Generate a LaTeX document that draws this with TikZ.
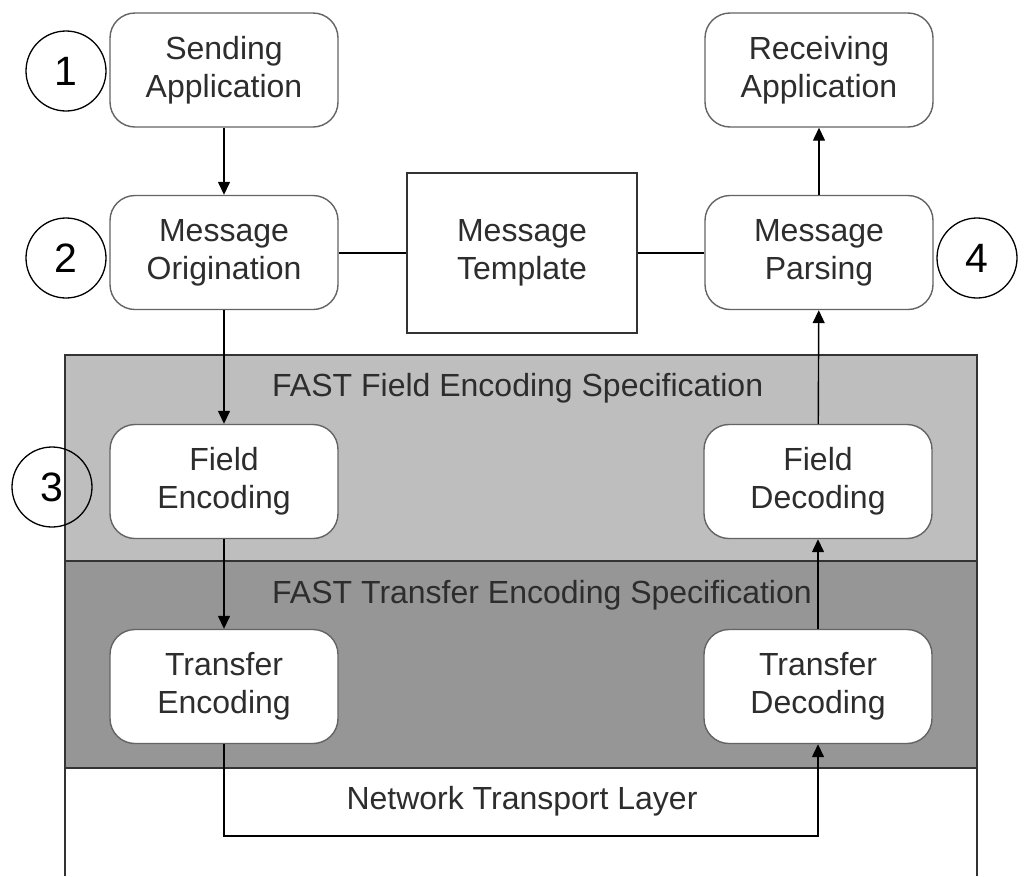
\documentclass[tikz,border=0pt]{standalone}
\usepackage{fontspec}
\setmainfont{Liberation Sans}
\usetikzlibrary{arrows.meta}
\definecolor{bandlight}{RGB}{190,190,190}
\definecolor{banddark}{RGB}{150,150,150}
\definecolor{boxline}{RGB}{100,100,100}
\definecolor{txt}{RGB}{45,45,45}
\tikzset{
  stage/.style={draw=boxline, line width=1.4pt, fill=white, rounded corners=25pt,
    minimum width=228pt, minimum height=114pt, align=center, text=txt,
    font=\fontsize{32}{38}\selectfont, inner sep=0pt},
  tmplbox/.style={draw=black!80, line width=1.4pt, fill=white,
    minimum width=230pt, minimum height=160pt, align=center, text=txt,
    font=\fontsize{32}{38}\selectfont, inner sep=0pt},
  stepnum/.style={draw=black, line width=1.3pt, circle, minimum size=80pt, inner sep=0pt,
    font=\fontsize{41}{41}\selectfont},
  layertext/.style={text=txt, font=\fontsize{32}{38}\selectfont, inner sep=0pt},
  flow/.style={draw=black, line width=1.4pt, -{Triangle[length=13pt,width=12pt]}},
  link/.style={draw=black, line width=1.4pt}
}
\begin{document}
\begin{tikzpicture}[x=1pt,y=-1pt]
\useasboundingbox (0,0) rectangle (1024,876);
% protocol layers
\fill[bandlight] (65,355) rectangle (977,561);
\fill[banddark] (65,561) rectangle (977,768);
\draw[black!80, line width=1.3pt] (65,876) -- (65,355) -- (977,355) -- (977,876);
\draw[black!80, line width=1.3pt] (65,561) -- (977,561);
\draw[black!80, line width=1.3pt] (65,768) -- (977,768);
\node[layertext, anchor=west] (fieldspec) at (272,388) {FAST Field Encoding Specification};
\node[layertext, anchor=west] (transspec) at (272,595) {FAST Transfer Encoding Specification};
\node[layertext] (nettext) at (522,801) {Network Transport Layer};
% stages
\node[stage] (send) at (224,70) {Sending\\Application};
\node[stage] (orig) at (224,252.5) {Message\\Origination};
\node[tmplbox] (tmpl) at (522,253) {Message\\Template};
\node[stage] (recv) at (819,70) {Receiving\\Application};
\node[stage] (pars) at (819,252.5) {Message\\Parsing};
\node[stage] (fenc) at (224,481.5) {Field\\Encoding};
\node[stage] (fdec) at (818,481.5) {Field\\Decoding};
\node[stage] (tenc) at (224,686.5) {Transfer\\Encoding};
\node[stage] (tdec) at (818,686.5) {Transfer\\Decoding};
% numbered markers
\node[stepnum] (n1) at (66,71) {1};
\node[stepnum] (n2) at (66,258) {2};
\node[stepnum] (n3) at (52,487) {3};
\node[stepnum] (n4) at (977,258) {4};
% connectors
\coordinate (netl) at (224,836);
\coordinate (netr) at (818,836);
\draw[flow] (send) -- (orig);
\draw[flow] (orig) -- (fenc);
\draw[flow] (fenc) -- (tenc);
\draw[flow] (tenc.south) -- (netl) -- (netr) -- (tdec.south);
\draw[flow] (tdec) -- (fdec);
\draw[flow] (fdec) -- (pars);
\draw[flow] (pars) -- (recv);
\draw[link] (orig.east |- 0,253) -- (tmpl.west);
\draw[link] (tmpl.east) -- (pars.west |- 0,253);
\end{tikzpicture}
\end{document}
